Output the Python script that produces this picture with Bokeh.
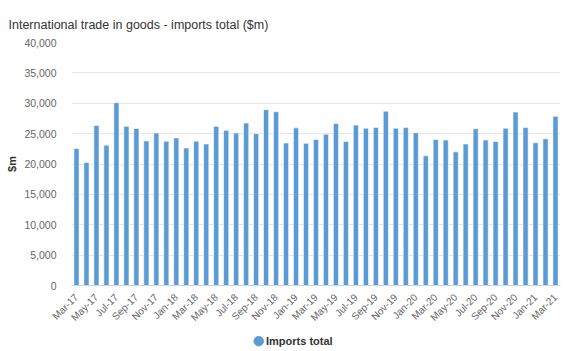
import math
from bokeh.plotting import figure
from bokeh.layouts import column
from bokeh.core.properties import value
from bokeh.models import (ColumnDataSource, Range1d, FixedTicker, NumeralTickFormatter)
from bokeh.embed import file_html
from bokeh.resources import INLINE

months = ["Mar-17", "Apr-17", "May-17", "Jun-17", "Jul-17", "Aug-17", "Sep-17", "Oct-17",
          "Nov-17", "Dec-17", "Jan-18", "Feb-18", "Mar-18", "Apr-18", "May-18", "Jun-18",
          "Jul-18", "Aug-18", "Sep-18", "Oct-18", "Nov-18", "Dec-18", "Jan-19", "Feb-19",
          "Mar-19", "Apr-19", "May-19", "Jun-19", "Jul-19", "Aug-19", "Sep-19", "Oct-19",
          "Nov-19", "Dec-19", "Jan-20", "Feb-20", "Mar-20", "Apr-20", "May-20", "Jun-20",
          "Jul-20", "Aug-20", "Sep-20", "Oct-20", "Nov-20", "Dec-20", "Jan-21", "Feb-21",
          "Mar-21"]
imports_total = [22550, 20250, 26350, 23100, 30100, 26200, 25850, 23800,
                 25100, 23750, 24300, 22650, 23750, 23300, 26200, 25550,
                 25100, 26750, 25000, 28950, 28620, 23450, 25950, 23400,
                 24050, 24900, 26650, 23700, 26400, 25900, 26000, 28700,
                 25900, 26000, 25150, 21350, 24050, 23950, 22000, 23300,
                 25800, 23950, 23700, 25900, 28550, 26000, 23500, 24150,
                 27850]
y_ticks = [0, 5000, 10000, 15000, 20000, 25000, 30000, 35000, 40000]
series_name = "Imports total"

FONT = "Liberation Sans"
BAR = "#5b9bd5"

idx = list(range(len(months)))
src = ColumnDataSource(dict(x=idx, y=imports_total, m=months))

p = figure(width=572, height=330, output_backend="svg", toolbar_location=None,
           x_range=Range1d(-0.5, len(months) - 0.5), y_range=Range1d(0, 40000),
           min_border_left=71, min_border_right=12, min_border_top=42, min_border_bottom=45)
p.outline_line_color = None
p.background_fill_color = "white"
p.border_fill_color = "white"

p.title.text = "International trade in goods - imports total ($m)"
p.title.text_font = FONT
p.title.text_font_size = "12.5px"
p.title.text_font_style = "normal"
p.title.text_color = "#333333"
p.title.align = "left"
p.title.offset = -63
p.title.standoff = 22

p.vbar(x="x", top="y", width=0.52, source=src, fill_color=BAR,
       line_color="white", line_width=0.6)

p.xgrid.grid_line_color = None
p.ygrid.grid_line_color = "#e6e6e6"
p.ygrid.ticker = FixedTicker(ticks=y_ticks)

ya = p.yaxis[0]
ya.ticker = FixedTicker(ticks=y_ticks)
ya.formatter = NumeralTickFormatter(format="0,0")
ya.axis_line_color = None
ya.major_tick_line_color = None
ya.minor_tick_line_color = None
ya.major_label_text_font = FONT
ya.major_label_text_font_size = "10.5px"
ya.major_label_text_color = "#666666"
ya.major_label_standoff = 9
ya.axis_label = "$m"
ya.axis_label_text_font = FONT
ya.axis_label_text_font_size = "11px"
ya.axis_label_text_font_style = "bold"
ya.axis_label_text_color = "#333333"
ya.axis_label_standoff = 3

xa = p.xaxis[0]
xa.ticker = FixedTicker(ticks=idx[::2])
xa.major_label_overrides = {i: months[i] for i in idx[::2]}
xa.axis_line_color = "#ccd6eb"
xa.major_tick_line_color = None
xa.minor_tick_line_color = None
xa.major_label_orientation = math.pi / 4
xa.major_label_text_font = FONT
xa.major_label_text_font_size = "10px"
xa.major_label_text_color = "#666666"
xa.major_label_standoff = 4

# legend strip
lg = figure(width=572, height=21, output_backend="svg", toolbar_location=None,
            x_range=Range1d(0, 572), y_range=Range1d(0, 21),
            x_axis_location=None, y_axis_location=None,
            min_border_left=0, min_border_right=0, min_border_top=0, min_border_bottom=0)
lg.grid.visible = False
lg.outline_line_color = None
lg.border_fill_color = "white"
lg_src = ColumnDataSource(dict(x=[219], y=[10.3], t=[series_name]))
lg.scatter(x="x", y="y", source=lg_src, marker="circle", size=9.5,
           fill_color=BAR, line_color=BAR)
lg.text(x=227.5, y=10.3, text=[series_name], text_font=value(FONT), text_font_size="11px",
        text_font_style="bold", text_color="#333333", text_baseline="middle",
        text_align="left")

layout = column(p, lg, spacing=0)
open("out.html", "w").write(file_html(layout, INLINE))
